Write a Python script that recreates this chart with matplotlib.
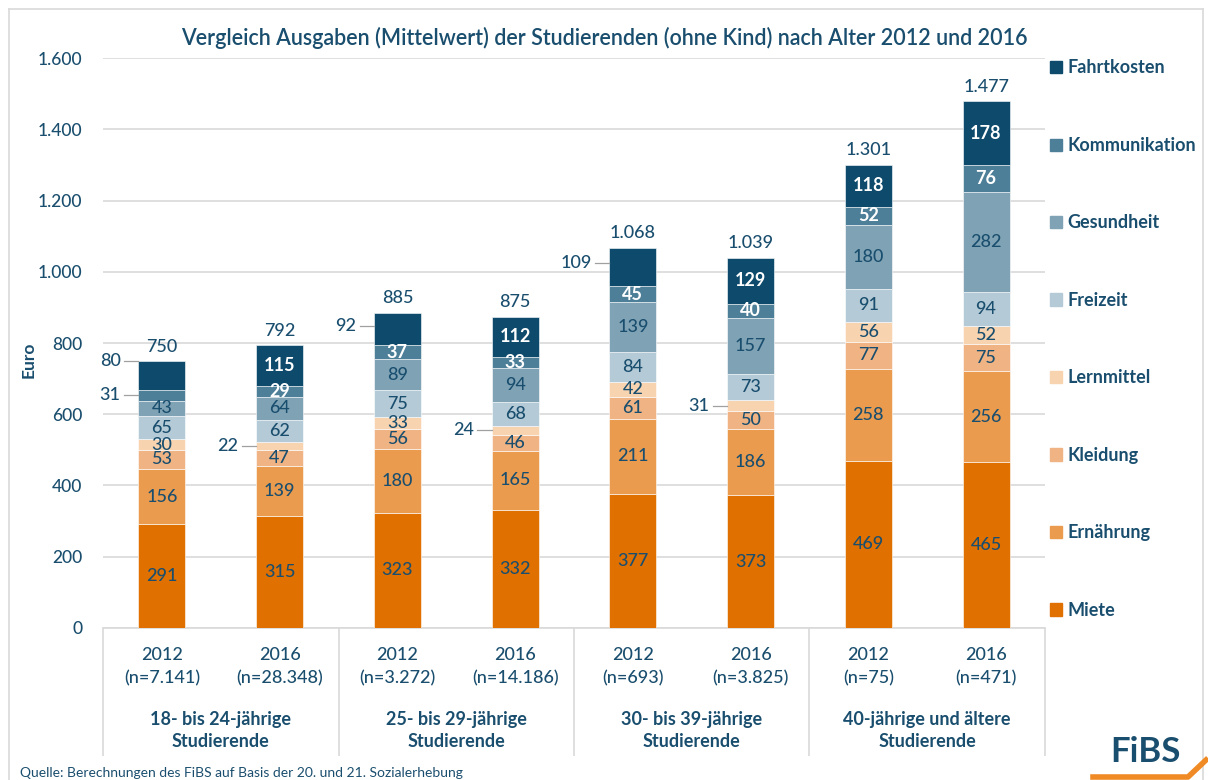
import matplotlib.pyplot as plt
import numpy as np
from matplotlib.patches import Patch
from matplotlib.lines import Line2D

plt.rcParams['font.family'] = ['Lato', 'DejaVu Sans']

# data (Euro per month, mean)
categories = ["Miete", "Ernährung", "Kleidung", "Lernmittel",
              "Freizeit", "Gesundheit", "Kommunikation", "Fahrtkosten"]
miete = [291, 315, 323, 332, 377, 373, 469, 465]
ernaehrung = [156, 139, 180, 165, 211, 186, 258, 256]
kleidung = [53, 47, 56, 46, 61, 50, 77, 75]
lernmittel = [30, 22, 33, 24, 42, 31, 56, 52]
freizeit = [65, 62, 75, 68, 84, 73, 91, 94]
gesundheit = [43, 64, 89, 94, 139, 157, 180, 282]
kommunikation = [31, 29, 37, 33, 45, 40, 52, 76]
fahrtkosten = [80, 115, 92, 112, 109, 129, 118, 178]
totals = [750, 792, 885, 875, 1068, 1039, 1301, 1477]

years = ["2012", "2016"] * 4
samples = ["7.141", "28.348", "3.272", "14.186", "693", "3.825", "75", "471"]
groups = ["18- bis 24-jährige\nStudierende", "25- bis 29-jährige\nStudierende",
          "30- bis 39-jährige\nStudierende", "40-jährige und ältere\nStudierende"]

# segments labelled outside the bar: (bar, category) -> y shift in Euro
outside = {(0, 7): 40, (0, 6): 0, (1, 3): 0, (2, 7): 10,
           (3, 3): 0, (4, 7): 10, (5, 3): 0}

colors = ["#E07000", "#EB9B4E", "#F0B384", "#F7D3B0",
          "#B4CAD6", "#7FA3B5", "#4E7F99", "#0D4A6B"]
navy = "#1A4E6E"
grid_c = "#D9D9D9"

series = [miete, ernaehrung, kleidung, lernmittel, freizeit,
          gesundheit, kommunikation, fahrtkosten]

fig = plt.figure(figsize=(12.08, 7.8), dpi=100)
ax = fig.add_axes([0.0853, 0.1949, 0.7797, 0.7307])

x = np.arange(len(totals))
bottom = np.zeros(len(totals))
width = 0.40
for k, vals in enumerate(series):
    vals = np.array(vals)
    ax.bar(x, vals, width, bottom=bottom, color=colors[k],
           edgecolor="white", linewidth=0.4, zorder=3)
    for i, v in enumerate(vals):
        mid = bottom[i] + v / 2
        if (i, k) in outside:
            y = mid + outside[(i, k)]
            ax.plot([x[i] - width / 2 - 0.12, x[i] - width / 2], [y, y],
                    color="#A0A0A0", lw=0.9, zorder=4, clip_on=False)
            ax.text(x[i] - width / 2 - 0.15, y, str(v), ha="right", va="center",
                    fontsize=13, color=navy, fontweight="medium")
        else:
            dark = k >= 6
            ax.text(x[i], mid, str(v), ha="center", va="center",
                    fontsize=13, color="white" if dark else navy,
                    fontweight="bold" if dark else "medium", zorder=5)
    bottom += vals

for i, t in enumerate(totals):
    ax.text(x[i], bottom[i] + 18, f"{t:,}".replace(",", "."), ha="center",
            va="bottom", fontsize=13, color=navy, fontweight="medium")

ax.set_xlim(-0.5, 7.5)
ax.set_ylim(0, 1600)
ax.set_yticks(range(0, 1601, 200))
ax.set_yticklabels([f"{v:,}".replace(",", ".") for v in range(0, 1601, 200)],
                   fontsize=12.5, color=navy, fontweight="medium")
ax.grid(axis="y", color=grid_c, lw=1.2, zorder=0)
for s in ["top", "right", "left"]:
    ax.spines[s].set_visible(False)
ax.spines["bottom"].set_color(grid_c)
ax.spines["bottom"].set_linewidth(1.2)
ax.tick_params(axis="y", length=0, pad=15)
ax.tick_params(axis="x", length=0, pad=14)
ax.set_xticks(x)
ax.set_xticklabels([f"{y}\n(n={n})" for y, n in zip(years, samples)],
                   fontsize=13, color=navy, linespacing=1.5, fontweight="medium")
ax.set_ylabel("Euro", fontsize=12.5, color=navy, fontweight="bold")
ax.yaxis.set_label_coords(-0.07, 0.47)

# group separators and labels
tr = ax.get_xaxis_transform()
ax.vlines(np.arange(-0.5, 8, 2), 0, -0.225, transform=tr, color=grid_c,
          lw=1.2, clip_on=False)
for g, name in enumerate(groups):
    ax.text(2 * g + 0.5, -0.18, name, transform=tr, ha="center", va="center",
            fontsize=13, color=navy, fontweight="bold", linespacing=1.4)

# legend
handles = [Patch(color=c, label=l) for c, l in zip(colors, categories)][::-1]
ax.legend(handles=handles, loc="upper left", bbox_to_anchor=(0.988, 1.026),
          frameon=False, labelspacing=3.35, handlelength=0.66,
          handleheight=0.66, handletextpad=0.32, labelcolor=navy,
          prop={"weight": "bold", "size": 13})

fig.text(0.5, 0.951, "Vergleich Ausgaben (Mittelwert) der Studierenden (ohne Kind) nach Alter 2012 und 2016",
         ha="center", va="center", fontsize=15.5, color=navy, fontweight="semibold")

# frame
for xs, ys in [([9, 9], [0, 771]), ([9, 1203], [771, 771]), ([1203, 1203], [771, 0])]:
    fig.add_artist(Line2D(np.array(xs) / 1208, np.array(ys) / 780,
                          color=grid_c, lw=1.2))

fig.text(20 / 1208, 7 / 780, "Quelle: Berechnungen des FiBS auf Basis der 20. und 21. Sozialerhebung",
         ha="left", va="center", fontsize=10, color=navy)

# logo
fig.text(1145 / 1208, 28 / 780, "FiBS", ha="center", va="center",
         fontsize=25, fontweight="bold", color=navy)
fig.add_artist(Line2D(np.array([1093, 1188, 1206]) / 1208,
                      np.array([3, 3, 20]) / 780, color="#F08A24", lw=4))

fig.savefig("out.png", dpi=100)
